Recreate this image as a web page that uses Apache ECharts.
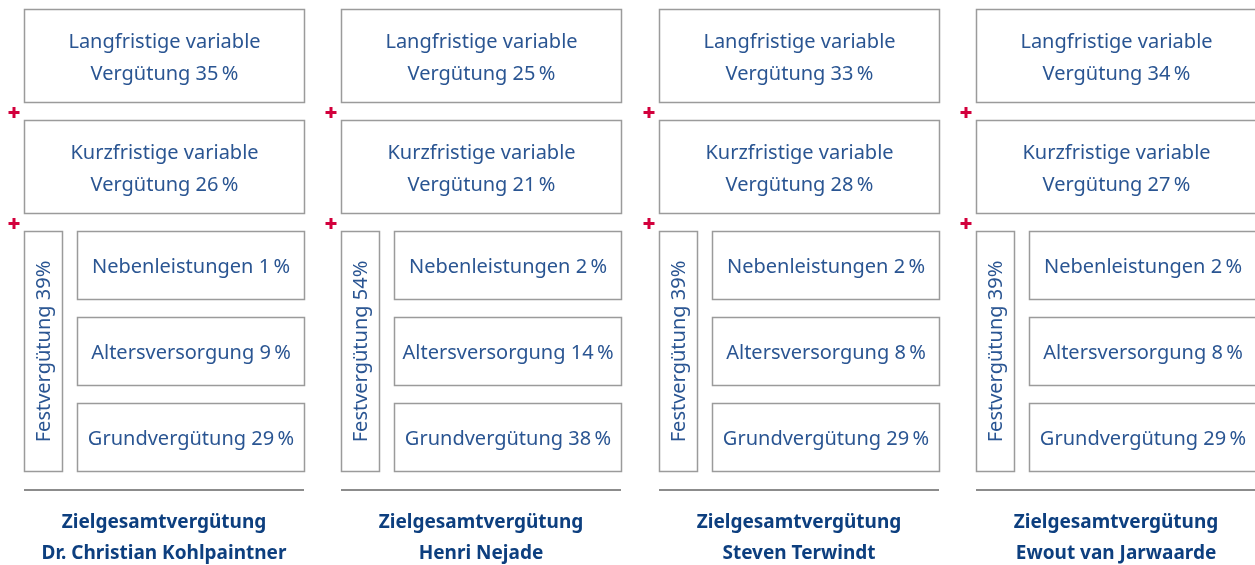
<!DOCTYPE html>
<html>
<head>
<meta charset="utf-8">
<script src="https://cdn.jsdelivr.net/npm/echarts@6/dist/echarts.min.js"></script>
<style>
  html, body { margin: 0; padding: 0; background: #fff; }
  #chart { width: 1255px; height: 565px; }
</style>
</head>
<body>
<div id="chart"></div>
<script>
// Vorstandsmitglieder und Anteile an der Zielgesamtvergütung (in %)
const executives = ['Dr. Christian Kohlpaintner', 'Henri Nejade', 'Steven Terwindt', 'Ewout van Jarwaarde'];
const longTermVariable = [35, 25, 33, 34];
const shortTermVariable = [26, 21, 28, 27];
const fixedPay = [39, 54, 39, 39];
const fringeBenefits = [1, 2, 2, 2];
const pension = [9, 14, 8, 8];
const basePay = [29, 38, 29, 29];

const PCT = '\u2009%';
const TEXT = '#2a5592';
const TITLE = '#0d3f7f';
const BORDER = '#9b9b9b';
const RED = '#d2003c';
const FONT = '"Noto Sans", "Open Sans", sans-serif';

// Lage der Kästen innerhalb einer Spalte (Pixel relativ zum Spaltenanfang)
const slots = {
  long:    { x: 24, y: 9,   w: 280, h: 93 },
  short:   { x: 24, y: 120, w: 280, h: 93 },
  fixed:   { x: 24, y: 231, w: 38,  h: 240, rotate: true },
  fringe:  { x: 77, y: 231, w: 227, h: 68 },
  pension: { x: 77, y: 317, w: 227, h: 68 },
  base:    { x: 77, y: 403, w: 227, h: 68 }
};

const boxes = [];
executives.forEach((name, i) => {
  boxes.push([i, 'long', 'Langfristige variable\nVergütung ' + longTermVariable[i] + PCT]);
  boxes.push([i, 'short', 'Kurzfristige variable\nVergütung ' + shortTermVariable[i] + PCT]);
  boxes.push([i, 'fixed', 'Festvergütung ' + fixedPay[i] + '%']);
  boxes.push([i, 'fringe', 'Nebenleistungen ' + fringeBenefits[i] + PCT]);
  boxes.push([i, 'pension', 'Altersversorgung ' + pension[i] + PCT]);
  boxes.push([i, 'base', 'Grundvergütung ' + basePay[i] + PCT]);
});
const panels = executives.map((name, i) => [i, name]);

const chart = echarts.init(document.getElementById('chart'));

function plus(cx, cy) {
  return [
    { type: 'rect', shape: { x: cx - 5.5, y: cy - 1.5, width: 11, height: 3 }, style: { fill: RED } },
    { type: 'rect', shape: { x: cx - 1.5, y: cy - 5.5, width: 3, height: 11 }, style: { fill: RED } }
  ];
}

chart.setOption({
  animation: false,
  grid: { left: 0, right: 0, top: 0, bottom: 0 },
  xAxis: { type: 'value', min: 0, max: 1255 / 317.4, show: false },
  yAxis: { type: 'value', min: 0, max: 1, show: false },
  series: [
    {
      type: 'custom',
      data: boxes,
      renderItem: function (params, api) {
        const b = boxes[params.dataIndex];
        const s = slots[b[1]];
        const ox = Math.round(api.coord([api.value(0), 0])[0]);
        const x = ox + s.x + 0.5, y = s.y + 0.5;
        const cx = x + s.w / 2 + (s.rotate ? 1 : 0), cy = y + s.h / 2 + (s.rotate ? 0 : 2);
        return {
          type: 'group',
          children: [
            { type: 'rect', shape: { x: x, y: y, width: s.w, height: s.h },
              style: { fill: '#fff', stroke: BORDER, lineWidth: 1.5 } },
            { type: 'text', x: cx, y: cy, rotation: s.rotate ? Math.PI / 2 : 0,
              style: { text: b[2], fill: TEXT, font: '20px ' + FONT, align: 'center',
                       verticalAlign: 'middle', lineHeight: 32 } }
          ]
        };
      }
    },
    {
      type: 'custom',
      data: panels,
      renderItem: function (params, api) {
        const p = panels[params.dataIndex];
        const ox = Math.round(api.coord([api.value(0), 0])[0]);
        return {
          type: 'group',
          children: [
            ...plus(ox + 14, 112.5),
            ...plus(ox + 14, 223.5),
            { type: 'rect', shape: { x: ox + 24, y: 489, width: 280, height: 2 }, style: { fill: '#8c8c8c' } },
            { type: 'text', x: ox + 164, y: 538,
              style: { text: 'Zielgesamtvergütung\n' + p[1], fill: TITLE, font: 'bold 19px ' + FONT,
                       align: 'center', verticalAlign: 'middle', lineHeight: 31 } }
          ]
        };
      }
    }
  ]
});
window.onresize = function () { chart.resize(); };
</script>
</body>
</html>
